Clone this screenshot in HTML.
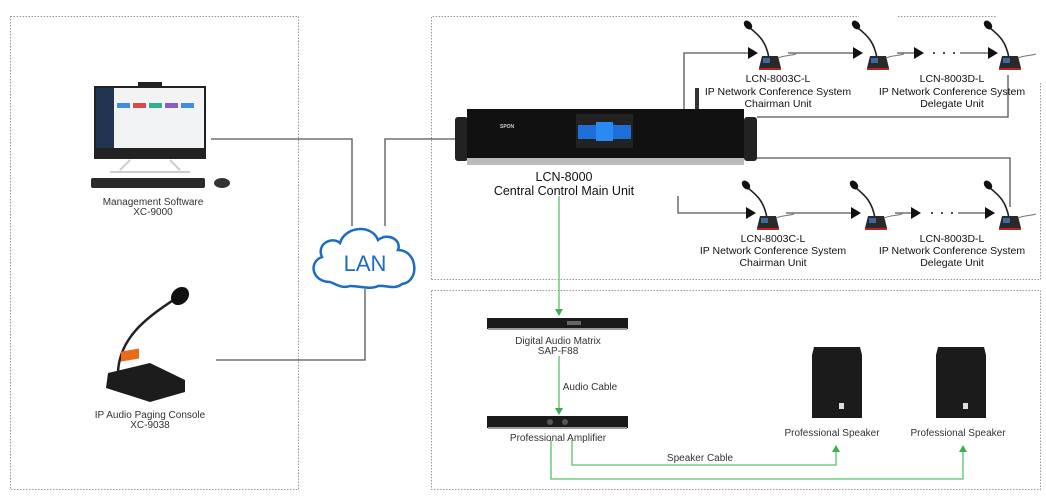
<!DOCTYPE html>
<html><head><meta charset="utf-8"><style>
html,body{margin:0;padding:0;background:#fff;}
svg{display:block;font-family:"Liberation Sans",sans-serif;}
</style></head><body>
<svg width="1046" height="496" viewBox="0 0 1046 496" xmlns="http://www.w3.org/2000/svg">
<defs>
<g id="mic">
  <path d="M0,0 C10,8 16,14 19,30" stroke="#222" stroke-width="1.6" fill="none"/>
  <ellipse cx="-2" cy="-3" rx="3.5" ry="5" transform="rotate(-40 -2 -3)" fill="#111"/>
  <path d="M12,28 L28,28 L31,40 L9,40 Z" fill="#2a2a2a"/>
  <rect x="13" y="30" width="7" height="5" fill="#3a6aa0"/>
  <rect x="9" y="40" width="22" height="2" fill="#b22"/>
  <path d="M28,30 C35,27 40,28 46,26" stroke="#777" stroke-width="1" fill="none"/>
</g>
</defs>
<g fill="none" stroke="#999" stroke-width="1" stroke-dasharray="1.5,1.5">
  <rect x="10.5" y="16.5" width="288" height="473"/>
  <path d="M431.5,279.5 V16.5 H859 M898,16.5 H997"/>
  <path d="M431.5,279.5 H1040.5 V83"/>
  <rect x="431.5" y="290.5" width="609" height="199"/>
</g>
<!-- LAN lines -->
<g stroke="#555" stroke-width="1.3" fill="none">
  <path d="M211,139 H352 V226"/>
  <path d="M385,226 V139 H455"/>
  <path d="M365,289 V360 H216"/>
  <path d="M684,109 V53 H748"/>
  <path d="M757,117 H1008 V75"/>
  <path d="M757,158 H1010 V207"/>
  <path d="M678,196 V213 H746"/>
  <path d="M788,53 H853 M897,53 H915 M960,53 H988"/>
  <path d="M786,213 H851 M895,213 H912 M958,213 H985"/>
</g>
<g fill="#111">
  <path d="M748,47 L758,53 L748,59Z"/><path d="M853,47 L863,53 L853,59Z"/>
  <path d="M914,47 L924,53 L914,59Z"/><path d="M988,47 L998,53 L988,59Z"/>
  <path d="M746,207 L756,213 L746,219Z"/><path d="M851,207 L861,213 L851,219Z"/>
  <path d="M911,207 L921,213 L911,219Z"/><path d="M985,207 L995,213 L985,219Z"/>
  <circle cx="934" cy="53" r="1"/><circle cx="944" cy="53" r="1"/><circle cx="954" cy="53" r="1"/>
  <circle cx="932" cy="213" r="1"/><circle cx="942" cy="213" r="1"/><circle cx="952" cy="213" r="1"/>
</g>
<use href="#mic" x="750" y="28"/><use href="#mic" x="858" y="28"/><use href="#mic" x="990" y="28"/>
<use href="#mic" x="748" y="188"/><use href="#mic" x="856" y="188"/><use href="#mic" x="990" y="188"/>
<!-- cloud -->
<path d="M330,282 C312,282 308,262 322,257 C316,244 332,236 340,243 C345,226 372,224 378,240 C388,232 402,240 398,250 C418,250 420,282 402,284 C395,290 385,285 378,286 C370,290 360,286 350,286 C342,289 336,284 330,282 Z" fill="#fff" stroke="#1a6cc4" stroke-width="2.5"/>
<text x="365" y="271" font-size="22" fill="#1a6cc4" text-anchor="middle">LAN</text>
<!-- computer -->
<rect x="138" y="82" width="24" height="4" fill="#222"/>
<rect x="94" y="86" width="112" height="73" fill="#222"/>
<rect x="96" y="88" width="108" height="60" fill="#f2f3f5"/>
<rect x="96" y="88" width="18" height="60" fill="#1f3550"/>
<rect x="117" y="103" width="13" height="5" fill="#3b8ee0"/><rect x="133" y="103" width="13" height="5" fill="#e04848"/>
<rect x="149" y="103" width="13" height="5" fill="#2eb38a"/><rect x="165" y="103" width="13" height="5" fill="#8a5cc8"/><rect x="181" y="103" width="13" height="5" fill="#3b8ee0"/>
<path d="M130,160 L120,170 M170,160 L180,170 M110,172 H190" stroke="#ccc" stroke-width="2" fill="none"/>
<rect x="91" y="178" width="114" height="10" rx="2" fill="#2a2a2a"/>
<ellipse cx="222" cy="183" rx="8" ry="5" fill="#333"/>
<!-- paging console -->
<path d="M185,292 C160,310 120,330 118,372" stroke="#222" stroke-width="2.5" fill="none"/>
<ellipse cx="180" cy="296" rx="8" ry="10" transform="rotate(45 180 296)" fill="#111"/>
<path d="M108,373 L150,363 L185,380 L185,392 L150,402 L106,388 Z" fill="#1c1c1c"/>
<rect x="121" y="373" width="18" height="10" fill="#e86a1a" transform="skewY(-10)"/>
<!-- main unit -->
<rect x="455" y="117" width="13" height="44" rx="3" fill="#222"/>
<rect x="744" y="117" width="13" height="44" rx="3" fill="#222"/>
<rect x="467" y="109" width="277" height="49" fill="#111"/>
<rect x="467" y="158" width="277" height="7" fill="#bbb"/>
<rect x="695" y="88" width="4" height="21" fill="#333"/>
<rect x="576" y="114" width="57" height="34" fill="#222"/>
<rect x="578" y="125" width="53" height="14" fill="#1e6fd8"/>
<rect x="596" y="122" width="17" height="19" fill="#2a8af0"/>
<text x="500" y="128" font-size="5" fill="#ccc" font-weight="bold">SPON</text>
<text x="564" y="181" font-size="12.5" fill="#111" text-anchor="middle">LCN-8000</text>
<text x="564" y="195" font-size="12.5" fill="#111" text-anchor="middle">Central Control Main Unit</text>
<!-- green lines -->
<g stroke="#5cc06a" stroke-width="1.3" fill="none">
  <path d="M559,196 V311"/><path d="M559,356 V410"/>
  <path d="M572,440 V465 H836 V451"/><path d="M551,440 V479 H963 V451"/>
</g>
<g fill="#3fae4f">
  <path d="M555,309 L559,316 L563,309Z"/><path d="M555,408 L559,415 L563,408Z"/>
  <path d="M832,452 L836,445 L840,452Z"/><path d="M959,452 L963,445 L967,452Z"/>
</g>
<!-- matrix & amp -->
<rect x="487" y="318" width="141" height="11" fill="#1a1a1a"/>
<rect x="488" y="328" width="139" height="2" fill="#999"/>
<rect x="567" y="321" width="14" height="4" fill="#666"/>
<rect x="487" y="416" width="141" height="12" fill="#1a1a1a"/>
<rect x="488" y="427" width="139" height="2" fill="#999"/>
<circle cx="550" cy="422" r="3" fill="#555"/><circle cx="565" cy="422" r="3" fill="#555"/>
<!-- speakers -->
<path d="M814,347 H860 L862,355 V418 H812 V355 Z" fill="#1b1b1b"/>
<path d="M938,347 H984 L986,355 V418 H936 V355 Z" fill="#1b1b1b"/>
<rect x="839" y="403" width="5" height="6" fill="#ddd"/><rect x="963" y="403" width="5" height="6" fill="#ddd"/>
<g font-size="10" fill="#333" text-anchor="middle">
  <text x="153" y="205">Management Software</text>
  <text x="153" y="215">XC-9000</text>
  <text x="150" y="418">IP Audio Paging Console</text>
  <text x="150" y="428">XC-9038</text>
  <text x="558" y="344">Digital Audio Matrix</text>
  <text x="558" y="354">SAP-F88</text>
  <text x="558" y="441">Professional Amplifier</text>
  <text x="832" y="436">Professional Speaker</text>
  <text x="958" y="436">Professional Speaker</text>
  <text x="590" y="390">Audio Cable</text>
  <text x="700" y="461">Speaker Cable</text>
</g>
<g font-size="10.5" fill="#111" text-anchor="middle">
  <text x="778" y="82">LCN-8003C-L</text>
  <text x="778" y="95">IP Network Conference System</text>
  <text x="778" y="107">Chairman Unit</text>
  <text x="952" y="82">LCN-8003D-L</text>
  <text x="952" y="95">IP Network Conference System</text>
  <text x="952" y="107">Delegate Unit</text>
  <text x="773" y="242">LCN-8003C-L</text>
  <text x="773" y="254">IP Network Conference System</text>
  <text x="773" y="266">Chairman Unit</text>
  <text x="952" y="242">LCN-8003D-L</text>
  <text x="952" y="254">IP Network Conference System</text>
  <text x="952" y="266">Delegate Unit</text>
</g>
</svg>
</body></html>
